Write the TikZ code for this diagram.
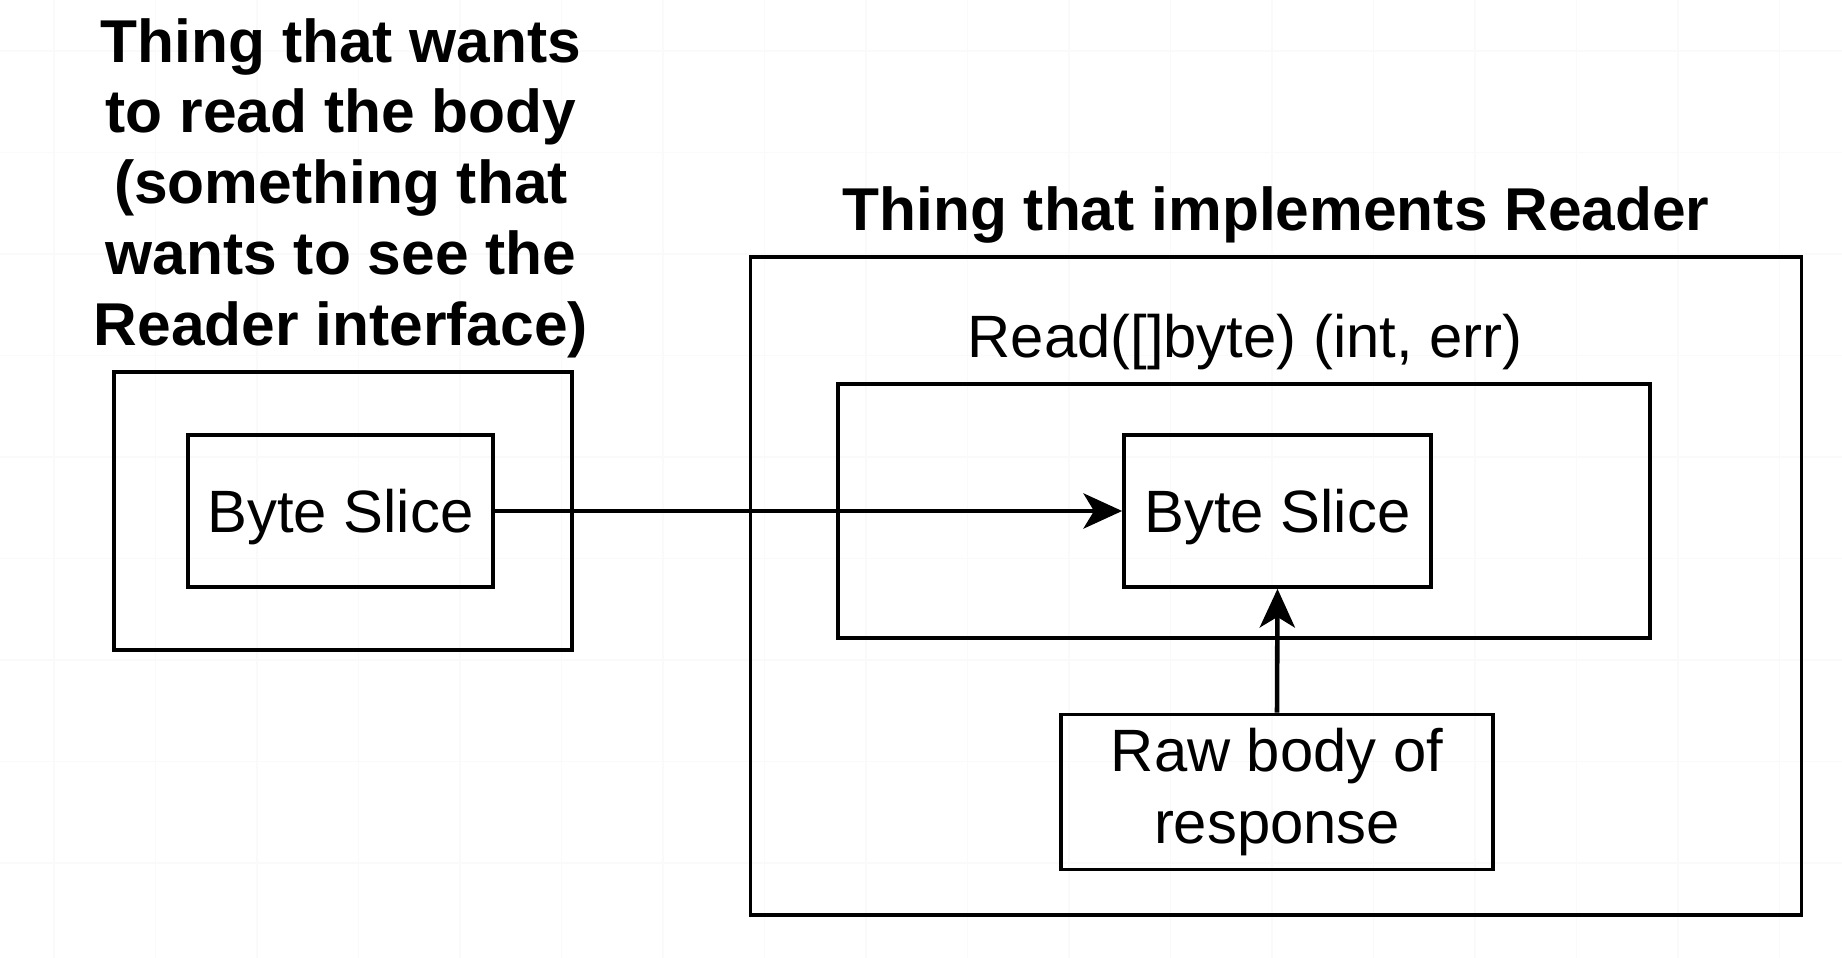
\documentclass[tikz,border=0pt]{standalone}
\usepackage{fontspec}
\setmainfont{Liberation Sans}
\usetikzlibrary{arrows.meta}

\tikzset{
  box/.style={draw, line width=1pt, inner sep=0pt, align=center},
  slicebox/.style={box, text height=12.2pt, text depth=0pt},
  titletext/.style={font=\fontsize{17.2}{20.1}\selectfont\bfseries, inner sep=0pt, align=center},
  flow/.style={-{Stealth[length=11pt, width=10pt, inset=3pt]}, line width=1.3pt},
  gridline/.style={gray!4, line width=0.5pt}
}

\begin{document}
\begin{tikzpicture}[x=0.01cm, y=-0.01cm, every node/.style={font=\fontsize{17}{20.5}\selectfont}]
            \useasboundingbox (0,0) rectangle (1842,958);

            % faint background grid
            \foreach \x in {0,...,17} {
              \draw[gridline] ({54+101.5*\x},0) -- ({54+101.5*\x},958);
            }
            \foreach \y in {0,...,8} {
              \draw[gridline] (0,{51+101.5*\y}) -- (1842,{51+101.5*\y});
            }

            % left side
            \node[titletext] (lefttitle) at (341,188) {Thing that wants\\to read the body\\(something that\\wants to see the\\Reader interface)};
            \node[box, minimum width=4.58cm, minimum height=2.78cm] (leftouter) at (343,511) {};
            \node[slicebox, minimum width=3.05cm, minimum height=1.52cm] (leftslice) at (340.5,511) {Byte Slice};

            % right side
            \node[titletext, anchor=base] (righttitle) at (1276,231) {Thing that implements Reader};
            \node[box, minimum width=10.5cm, minimum height=6.58cm] (rightouter) at (1276,586) {};
            \node[anchor=base, inner sep=0pt] (readlabel) at (1245,358) {Read([]byte) (int, err)};
            \node[box, minimum width=8.12cm, minimum height=2.54cm] (readbox) at (1244,511) {};
            \node[slicebox, minimum width=3.07cm, minimum height=1.52cm] (rightslice) at (1277.5,511) {Byte Slice};
            \node[box, minimum width=4.32cm, minimum height=1.55cm] (rawbody) at (1277,792) {Raw body of\\response};

            % arrows
            \draw[flow] (leftslice) -- (rightslice);
            \draw[flow] (rawbody.north) -- (rightslice.south);
        \end{tikzpicture}
\end{document}
